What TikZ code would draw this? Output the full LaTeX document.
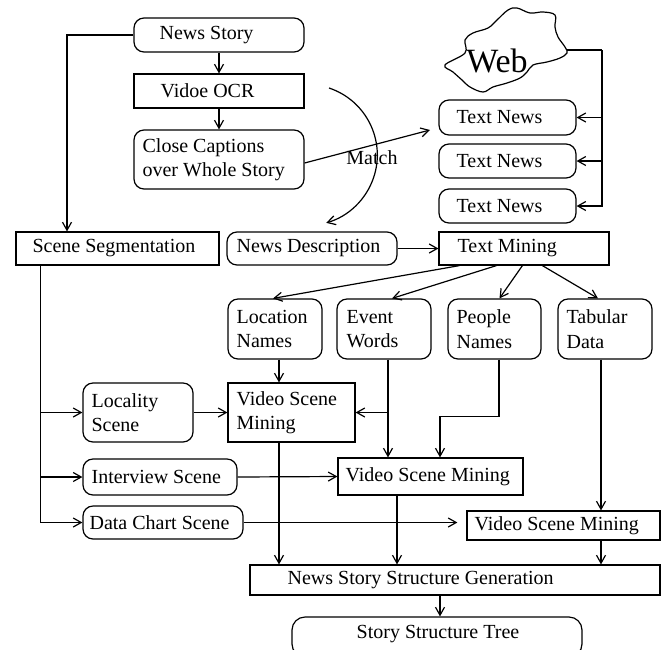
\documentclass[tikz,border=0pt]{standalone}
\usepackage{fontspec}
\setmainfont{Liberation Serif}
\usetikzlibrary{arrows.meta}

\newcommand\lbfont{\fontsize{20}{24.5}\selectfont}
\newcommand\webfont{\fontsize{34}{36}\selectfont}

\tikzset{
  ln/.style={line width=1.2pt},
  arr/.style={ln, -{Straight Barb[length=8pt,width=9pt]}},
  rbox/.style={draw, ln, rounded corners=10pt, inner sep=0pt},
  sbox/.style={draw, ln, inner sep=0pt},
  lbl/.style={inner sep=0pt, anchor=west, align=left, font=\lbfont},
}

\begin{document}
\begin{tikzpicture}[x=1pt,y=-1pt]
\useasboundingbox (0,0) rectangle (664,649);

% ---- boxes ----
\node[rbox, minimum width=170pt, minimum height=34pt] (news) at (219,35) {};
\node[sbox, minimum width=170pt, minimum height=34pt] (ocr) at (219,91) {};
\node[rbox, minimum width=170pt, minimum height=59pt] (cc) at (219,159.5) {};

\node[rbox, minimum width=137pt, minimum height=35pt] (tn1) at (507.5,117.5) {};
\node[rbox, minimum width=137pt, minimum height=34pt] (tn2) at (507.5,161) {};
\node[rbox, minimum width=137pt, minimum height=34pt] (tn3) at (507.5,206) {};

\node[sbox, minimum width=203pt, minimum height=33pt] (seg) at (117.5,248.5) {};
\node[rbox, minimum width=170pt, minimum height=33pt] (desc) at (312,248.5) {};
\node[sbox, minimum width=170pt, minimum height=33pt] (tm) at (524,248.5) {};

\node[rbox, minimum width=94pt, minimum height=60pt] (loc) at (275,329) {};
\node[rbox, minimum width=94pt, minimum height=60pt] (ev) at (384,329) {};
\node[rbox, minimum width=93pt, minimum height=60pt] (ppl) at (494.5,329) {};
\node[rbox, minimum width=94pt, minimum height=60pt] (tab) at (605,329) {};

\node[rbox, minimum width=110pt, minimum height=59pt] (locs) at (138,412.5) {};
\node[sbox, minimum width=127pt, minimum height=59pt] (vsm1) at (291.5,412.5) {};

\node[rbox, minimum width=154pt, minimum height=36pt] (intv) at (160,477) {};
\node[sbox, minimum width=185pt, minimum height=37pt] (vsm2) at (430.5,476.5) {};

\node[rbox, minimum width=160pt, minimum height=33pt] (dcs) at (163,522.5) {};
\node[sbox, minimum width=193pt, minimum height=29pt] (vsm3) at (563.5,525.5) {};

\node[sbox, minimum width=410pt, minimum height=30pt] (nssg) at (455,580) {};
\node[rbox, rounded corners=13pt, minimum width=290pt, minimum height=40pt] (sst) at (437,637) {};

% ---- texts ----
\node[lbl] (newsT) at ([xshift=26pt]news.west) {News Story};
\node[lbl] (ocrT) at ([xshift=27pt]ocr.west) {Vidoe OCR};
\node[lbl] (ccT) at ([xshift=9pt]cc.west) {Close Captions\\over Whole Story};
\node[lbl] (tn1T) at ([xshift=18pt]tn1.west) {Text News};
\node[lbl] (tn2T) at ([xshift=18pt]tn2.west) {Text News};
\node[lbl] (tn3T) at ([xshift=18pt]tn3.west) {Text News};
\node[lbl] (segT) at ([xshift=17pt]seg.west) {Scene Segmentation};
\node[lbl] (descT) at ([xshift=10pt]desc.west) {News Description};
\node[lbl] (tmT) at ([xshift=19pt]tm.west) {Text Mining};
\node[lbl] (locT) at ([xshift=9pt]loc.west) {Location\\Names};
\node[lbl] (evT) at ([xshift=10pt]ev.west) {Event\\Words};
\node[lbl] (pplT) at ([xshift=9pt]ppl.west) {People\\Names};
\node[lbl] (tabT) at ([xshift=9pt]tab.west) {Tabular\\Data};
\node[lbl] (locsT) at ([xshift=9pt]locs.west) {Locality\\Scene};
\node[lbl] (vsm1T) at ([xshift=9pt]vsm1.west) {Video Scene\\Mining};
\node[lbl] (intvT) at ([xshift=9pt]intv.west) {Interview Scene};
\node[lbl] (vsm2T) at ([xshift=8pt]vsm2.west) {Video Scene Mining};
\node[lbl] (dcsT) at ([xshift=7pt]dcs.west) {Data Chart Scene};
\node[lbl] (vsm3T) at ([xshift=8pt]vsm3.west) {Video Scene Mining};
\node[lbl] (nssgT) at ([xshift=38pt]nssg.west) {News Story Structure Generation};
\node[font=\lbfont, inner sep=0pt] (sstT) at (438,634) {Story Structure Tree};

% ---- web cloud ----
\draw[ln] plot[smooth cycle, tension=0.6] coordinates {
  (445,65) (465,53) (465,40) (473,33) (488,28) (497,20) (508,10) (517,8)
  (530,13) (543,12) (555,15) (555,27) (558,37) (565,47) (567,53) (560,58)
  (547,62) (533,65) (527,72) (520,78) (507,83) (493,87) (483,92) (470,87)
  (462,80) (453,72)};
\node[font=\webfont, inner sep=0pt] (web) at (497,61) {Web};
\coordinate (webE) at (567,50);
\coordinate (feed) at (602,50);

% ---- connectors ----
\draw[arr] (news.west) -| ([xshift=-50.5pt]seg.north);
\draw[arr] (news.south) -- (ocr.north);
\draw[arr] (ocr.south) -- (cc.north);

\coordinate (matchtip) at (430,130);
\draw[arr] ([yshift=-3.5pt]cc.east) -- (matchtip);
\coordinate (arcS) at (329,88);
\draw[arr] (arcS) arc[start angle=-71.6, end angle=74, radius=70.6];
\node[font=\lbfont, inner sep=0pt] (match) at (372,158) {Match};

\draw[ln] (webE) -- (feed);
\draw[arr] (feed) |- (tn3.east);
\draw[arr] (feed |- tn1.east) -- (tn1.east);
\draw[arr] (feed |- tn2.east) -- (tn2.east);

\draw[arr] (desc.east) -- (tm.west);

\draw[arr] ([xshift=21pt]tm.south west) -- ([xshift=-2pt]loc.north);
\draw[arr] ([xshift=58pt]tm.south west) -- ([xshift=8pt]ev.north);
\draw[arr] ([xshift=84pt]tm.south west) -- ([xshift=5pt]ppl.north);
\draw[arr] ([xshift=104pt]tm.south west) -- ([xshift=-7pt]tab.north);

\draw[arr] ([xshift=4pt]loc.south) -- ([xshift=4pt]loc.south |- vsm1.north);

% scene segmentation feeds the three scene types
\coordinate (segS) at ([xshift=25pt]seg.south west);
\draw[ln] (segS) -- (segS |- dcs.west);
\draw[arr] (segS |- dcs.west) -- (dcs.west);
\draw[arr] (segS |- locs.west) -- (locs.west);
\draw[arr] (segS |- intv.west) -- (intv.west);

\draw[arr] (locs.east) -- (vsm1.west);

\draw[arr] ([xshift=4pt]ev.south) -- ([xshift=4pt]ev.south |- vsm2.north);
\draw[arr] ([xshift=4pt]ev.south |- vsm1.east) -- (vsm1.east);
\draw[arr] ([xshift=4.5pt]ppl.south) -- ++(0,57) -| ([xshift=9.5pt]vsm2.north);
\draw[arr] ([xshift=-4pt]tab.south) -- ([xshift=-4pt]tab.south |- vsm3.north);

\draw[arr] (intv.east) -- (vsm2.west);
\draw[arr] (dcs.east) -- ([xshift=-9pt]dcs.east -| vsm3.west);

\draw[arr] ([xshift=-12.5pt]vsm1.south) -- ([xshift=-12.5pt]vsm1.south |- nssg.north);
\draw[arr] ([xshift=-33.5pt]vsm2.south) -- ([xshift=-33.5pt]vsm2.south |- nssg.north);
\draw[arr] ([xshift=37.5pt]vsm3.south) -- ([xshift=37.5pt]vsm3.south |- nssg.north);
\draw[arr] ([xshift=-15pt]nssg.south) -- ([xshift=-15pt]nssg.south |- sst.north);
\end{tikzpicture}
\end{document}
